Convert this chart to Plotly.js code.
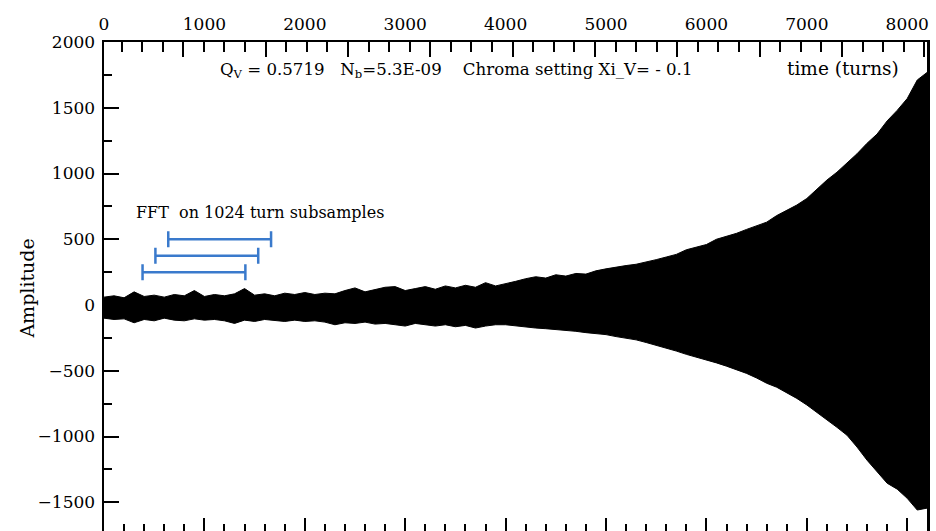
<!DOCTYPE html>
<html>
<head>
<meta charset="utf-8">
<script src="https://cdn.plot.ly/plotly-3.0.1.min.js"></script>
<style>
html,body{margin:0;padding:0;overflow:hidden;background:#fff;}
#chart{width:936px;height:536px;}
</style>
</head>
<body>
<div id="chart"></div>
<script>
// time (turns) samples of the envelope
var turns = [0,100,200,300,400,500,600,700,800,900,1000,1100,1200,1300,1400,1500,1600,1700,1800,1900,
             2000,2100,2200,2300,2400,2500,2600,2700,2800,2900,3000,3100,3200,3300,3400,3500,3600,3700,3800,3900,
             4000,4100,4200,4300,4400,4500,4600,4700,4800,4900,5000,5100,5200,5300,5400,5500,5600,5700,5800,5900,
             6000,6100,6200,6300,6400,6500,6600,6700,6800,6900,7000,7100,7200,7300,7400,7500,7600,7700,7800,7900,
             8000,8100,8200];
// upper envelope of amplitude
var upperAmp = [60,70,55,100,65,75,60,80,70,110,65,80,70,85,125,75,85,70,90,80,
                95,80,90,85,110,130,100,115,135,140,110,125,140,120,145,130,150,135,170,145,
                160,180,200,215,205,230,220,240,235,260,275,290,300,310,325,345,365,385,420,440,
                460,500,520,545,575,600,630,680,720,760,810,880,950,1010,1080,1150,1230,1300,1400,1480,
                1570,1711,1770];
// lower envelope of amplitude
var lowerAmp = [-100,-110,-105,-135,-110,-120,-100,-115,-120,-105,-115,-110,-120,-140,-115,-125,-110,-120,-125,-115,
                -125,-120,-130,-150,-135,-140,-130,-145,-140,-150,-160,-140,-150,-160,-150,-165,-155,-175,-160,-150,
                -150,-160,-165,-175,-180,-185,-195,-200,-210,-215,-225,-240,-250,-265,-285,-305,-330,-350,-375,-395,
                -420,-440,-465,-490,-520,-555,-595,-625,-665,-710,-760,-815,-875,-930,-990,-1080,-1180,-1270,-1355,-1400,
                -1470,-1559,-1544];

// FFT subsample windows (start turn, length, plotted level)
var fftStart = [640,512,384];
var fftLength = [1024,1024,1024];
var fftLevel = [500,375,250];

var fftCenter = fftStart.map(function(s,i){return s + fftLength[i]/2;});
var fftHalf = fftLength.map(function(l){return l/2;});

var serif = 'DejaVu Serif, serif';

var traces = [
  {x: turns, y: lowerAmp, type:'scatter', mode:'lines', line:{color:'#000', width:1}, hoverinfo:'skip', showlegend:false},
  {x: turns, y: upperAmp, type:'scatter', mode:'lines', fill:'tonexty', fillcolor:'#000', line:{color:'#000', width:1}, hoverinfo:'skip', showlegend:false},
  {x: fftCenter, y: fftLevel, type:'scatter', mode:'markers', marker:{size:1, opacity:0},
   error_x:{type:'data', symmetric:true, array:fftHalf, color:'rgb(58,122,204)', thickness:2.5, width:8},
   hoverinfo:'skip', showlegend:false},
  // carriers so the top axes are drawn
  {x:[0], y:[0], xaxis:'x2', yaxis:'y', type:'scatter', mode:'markers', marker:{opacity:0, size:1}, hoverinfo:'skip', showlegend:false},
  {x:[0], y:[0], xaxis:'x3', yaxis:'y', type:'scatter', mode:'markers', marker:{opacity:0, size:1}, hoverinfo:'skip', showlegend:false}
];

var xr = [0, 8197];
var layout = {
  width:936, height:536,
  margin:{l:104, r:9, t:42, b:4},
  paper_bgcolor:'#fff', plot_bgcolor:'#fff',
  showlegend:false,
  font:{family:serif, size:17, color:'#000'},
  xaxis:{range:xr, showgrid:false, zeroline:false, showline:true, linewidth:2.5, linecolor:'#000', mirror:true,
         ticks:'inside', ticklen:14, tickwidth:2, tickcolor:'#000', dtick:1000, tick0:0, showticklabels:false,
         minor:{ticks:'inside', dtick:200, tick0:0, ticklen:8, tickwidth:2, tickcolor:'#000', showgrid:false}},
  xaxis2:{range:xr, overlaying:'x', side:'top', anchor:'y', showgrid:false, zeroline:false, showline:false,
          ticks:'', dtick:1000, tick0:0, showticklabels:true, ticklabelstandoff:8,
          tickfont:{family:serif, size:17, color:'#000'}},
  xaxis3:{range:xr, overlaying:'x', side:'top', anchor:'y', showgrid:false, zeroline:false, showline:true, linewidth:2.5, linecolor:'#000',
          ticks:'inside', ticklen:15, tickwidth:2, tickcolor:'#000', tick0:-30, dtick:820, showticklabels:false,
          minor:{ticks:'inside', dtick:205, tick0:-30, ticklen:10, tickwidth:2, tickcolor:'#000', showgrid:false}},
  yaxis:{range:[-1726, 2000], showgrid:false, zeroline:false, showline:true, linewidth:2.5, linecolor:'#000', mirror:true,
         ticks:'inside', ticklen:15, tickwidth:2, tickcolor:'#000', dtick:500, tick0:0, ticklabelstandoff:3,
         tickfont:{family:serif, size:17, color:'#000'},
         minor:{ticks:'inside', dtick:250, tick0:0, ticklen:8, tickwidth:2, tickcolor:'#000', showgrid:false}},
  annotations:[
    {xref:'paper', yref:'paper', x:-0.094, y:0.496, text:'Amplitude', textangle:-90, showarrow:false,
     font:{family:serif, size:19, color:'#000'}, xanchor:'center', yanchor:'middle'},
    {xref:'x', yref:'y', x:1135, y:1787, xanchor:'left', yanchor:'middle', showarrow:false,
     text:'Q<sub>V</sub> = 0.5719&nbsp;&nbsp; N<sub>b</sub>=5.3E-09&nbsp;&nbsp;&nbsp; Chroma setting Xi_V= - 0.1',
     font:{family:serif, size:16.6, color:'#000'}},
    {xref:'x', yref:'y', x:6783, y:1802, xanchor:'left', yanchor:'middle', showarrow:false,
     text:'time (turns)', font:{family:serif, size:18.5, color:'#000'}},
    {xref:'x', yref:'y', x:299, y:700, xanchor:'left', yanchor:'middle', showarrow:false,
     text:'FFT&nbsp; on 1024 turn subsamples', font:{family:serif, size:16, color:'#000'}}
  ]
};

Plotly.newPlot('chart', traces, layout, {displayModeBar:false, staticPlot:true});
</script>
</body>
</html>
